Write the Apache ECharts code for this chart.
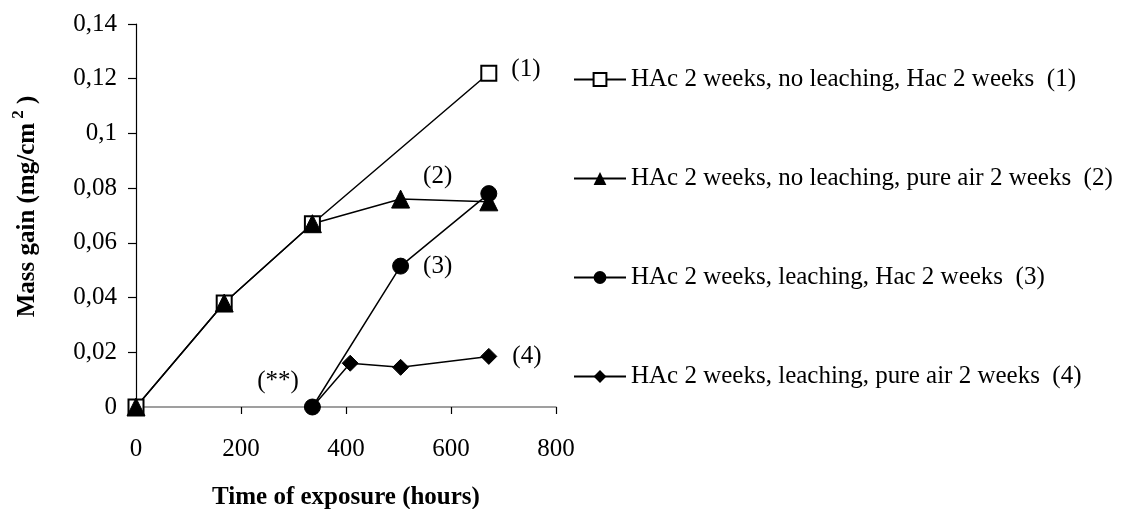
<!DOCTYPE html>
<html>
<head>
<meta charset="utf-8">
<script src="https://cdn.jsdelivr.net/npm/echarts@6/dist/echarts.min.js"></script>
<style>html,body{margin:0;padding:0;background:#fff}#c{width:1138px;height:509px}</style>
</head>
<body>
<div id="c"></div>
<script>
// Data (time in hours, mass gain in mg/cm2)
const seriesNames = [
  'HAc 2 weeks, no leaching, Hac 2 weeks  (1)',
  'HAc 2 weeks, no leaching, pure air 2 weeks  (2)',
  'HAc 2 weeks, leaching, Hac 2 weeks  (3)',
  'HAc 2 weeks, leaching, pure air 2 weeks  (4)'
];
const s1 = [[0, 0], [168, 0.038], [336, 0.067], [672, 0.122]];
const s2 = [[0, 0], [168, 0.038], [336, 0.067], [504, 0.076], [672, 0.075]];
const s3 = [[336, 0], [504, 0.0515], [672, 0.078]];
const s4 = [[336, 0], [408, 0.016], [504, 0.0145], [672, 0.0185]];
const xTicks = [0, 200, 400, 600, 800];
const yTickLabels = ['0', '0,02', '0,04', '0,06', '0,08', '0,1', '0,12', '0,14'];
const annotations = ['(1)', '(2)', '(3)', '(4)', '(**)'];

const FONT = '"Liberation Serif", "Times New Roman", serif';
const FS = 25;

function withLabel(arr, idx, labelCfg) {
  return arr.map((p, i) => i === idx ? { value: p, label: Object.assign({ show: true, color: '#000', fontFamily: FONT, fontSize: FS }, labelCfg) } : { value: p });
}

const chart = echarts.init(document.getElementById('c'), null, { renderer: 'canvas' });
const common = { type: 'line', lineStyle: { color: '#000', width: 1.5 }, itemStyle: { color: '#000', borderColor: '#000' }, z: 2, animation: false };

chart.setOption({
  backgroundColor: '#fff',
  animation: false,
  grid: { left: 136, right: 582, top: 24, bottom: 102, containLabel: false, outerBoundsMode: 'none' },
  legend: {
    orient: 'vertical', left: 568, top: 62, itemGap: 74, itemWidth: 52, itemHeight: 16,
    textStyle: { fontFamily: FONT, fontSize: FS, color: '#000' },
    data: seriesNames
  },
  xAxis: {
    type: 'value', min: xTicks[0], max: xTicks[xTicks.length - 1], interval: 200,
    axisLine: { show: true, onZero: false, lineStyle: { color: '#808080', width: 1.5 } },
    axisTick: { show: true, length: 7, lineStyle: { color: '#000', width: 1.2 } },
    splitLine: { show: false },
    axisLabel: { margin: 30, fontFamily: FONT, fontSize: FS, color: '#000' },
    name: 'Time of exposure (hours)', nameLocation: 'middle', nameGap: 78,
    nameTextStyle: { fontFamily: FONT, fontSize: FS, fontWeight: 'bold', color: '#000' }
  },
  yAxis: {
    type: 'value', min: 0, max: 0.14, interval: 0.02,
    axisLine: { show: true, lineStyle: { color: '#000', width: 1.2 } },
    axisTick: { show: true, length: 8, lineStyle: { color: '#000', width: 1.2 } },
    splitLine: { show: false },
    axisLabel: { margin: 19, fontFamily: FONT, fontSize: FS, color: '#000',
      formatter: (v) => yTickLabels[Math.round(v / 0.02)] },
    name: '{b|Mass gain (mg/cm}{sup| 2}{b| )}', nameLocation: 'middle', nameGap: 91,
    nameTextStyle: { fontFamily: FONT, fontSize: FS, fontWeight: 'bold', color: '#000',
      padding: [0, 0, 0, 18],
      rich: {
        b: { fontFamily: FONT, fontSize: FS, fontWeight: 'bold', color: '#000' },
        sup: { fontFamily: FONT, fontSize: 17, fontWeight: 'bold', color: '#000', padding: [0, 0, 18, 0] }
      }
    }
  },
  series: [
    Object.assign({}, common, { name: seriesNames[0], symbol: 'emptyRect', symbolSize: 15,
      itemStyle: { color: '#000', borderColor: '#000', borderWidth: 1.5 },
      data: withLabel(s1, 3, { position: 'right', distance: 14, offset: [0, -4], formatter: annotations[0] }) }),
    Object.assign({}, common, { name: seriesNames[1], symbol: 'triangle', symbolSize: 18,
      data: withLabel(s2, 3, { position: 'right', distance: 13, offset: [0, -23], formatter: annotations[1] }) }),
    Object.assign({}, common, { name: seriesNames[2], symbol: 'circle', symbolSize: 16,
      data: s3.map((p, i) => {
        if (i === 0) return { value: p, label: { show: true, position: 'left', distance: 5, offset: [0, -26], formatter: annotations[4], color: '#000', fontFamily: FONT, fontSize: FS } };
        if (i === 1) return { value: p, label: { show: true, position: 'right', distance: 14, offset: [0, 0], formatter: annotations[2], color: '#000', fontFamily: FONT, fontSize: FS } };
        return { value: p };
      }) }),
    Object.assign({}, common, { name: seriesNames[3], symbol: 'diamond', symbolSize: 16, z: 1,
      data: withLabel(s4, 3, { position: 'right', distance: 15, offset: [0, 0], formatter: annotations[3] }) })
  ]
});
</script>
</body>
</html>
